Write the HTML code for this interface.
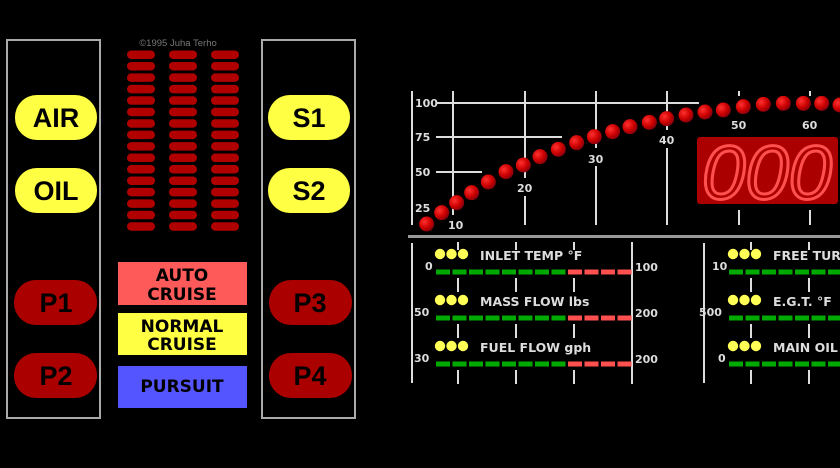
<!DOCTYPE html>
<html><head><meta charset="utf-8"><style>
html,body{margin:0;padding:0;background:#000;width:840px;height:468px;overflow:hidden}
svg{display:block}
.pill{font-family:"Liberation Sans","DejaVu Sans",sans-serif;font-weight:bold;font-size:27px;fill:#000;text-anchor:middle}
.box{font-family:"DejaVu Sans","Liberation Sans",sans-serif;font-weight:bold;font-size:17px;fill:#000;text-anchor:middle}
.ax{font-family:"DejaVu Sans","Liberation Sans",sans-serif;font-size:11px;fill:#ddd;font-weight:bold}
.lb{font-family:"DejaVu Sans","Liberation Sans",sans-serif;font-size:12.5px;fill:#ddd;font-weight:bold}
</style></head><body>
<svg id="s" width="840" height="468" viewBox="0 0 840 468" xmlns="http://www.w3.org/2000/svg">
<defs>
<radialGradient id="ball" cx="0.35" cy="0.35" r="0.7"><stop offset="0" stop-color="#ff3030"/><stop offset="0.6" stop-color="#cc0000"/><stop offset="1" stop-color="#800010"/></radialGradient>
</defs>
<g fill="none" stroke="#aaa" stroke-width="2">
<rect x="7" y="40" width="93" height="378"/>
<rect x="262" y="40" width="93" height="378"/>
</g>
<text x="178" y="46" font-family="Liberation Sans,sans-serif" font-size="9.5" fill="#777" text-anchor="middle">©1995 Juha Terho</text>
<g id="bars" fill="#b00000"></g>
<g>
<rect x="15" y="95" width="82" height="45" rx="22" fill="#ffff44"/><text class="pill" x="56" y="127">AIR</text>
<rect x="15" y="168" width="82" height="45" rx="22" fill="#ffff44"/><text class="pill" x="56" y="200">OIL</text>
<rect x="14" y="280" width="83" height="45" rx="22" fill="#aa0000"/><text class="pill" x="56" y="312">P1</text>
<rect x="14" y="353" width="83" height="45" rx="22" fill="#aa0000"/><text class="pill" x="56" y="385">P2</text>
<rect x="268" y="95" width="82" height="45" rx="22" fill="#ffff44"/><text class="pill" x="309" y="127">S1</text>
<rect x="268" y="168" width="82" height="45" rx="22" fill="#ffff44"/><text class="pill" x="309" y="200">S2</text>
<rect x="269" y="280" width="83" height="45" rx="22" fill="#aa0000"/><text class="pill" x="310" y="312">P3</text>
<rect x="269" y="353" width="83" height="45" rx="22" fill="#aa0000"/><text class="pill" x="310" y="385">P4</text>
</g>
<rect x="118" y="262" width="129" height="43" fill="#ff5a5a"/>
<text class="box" x="182" y="281">AUTO</text><text class="box" x="182" y="300">CRUISE</text>
<rect x="118" y="313" width="129" height="42" fill="#ffff44"/>
<text class="box" x="182" y="332">NORMAL</text><text class="box" x="182" y="350">CRUISE</text>
<rect x="118" y="366" width="129" height="42" fill="#5555ff"/>
<text class="box" x="182" y="392">PURSUIT</text>
<g stroke="#ddd" stroke-width="2">
<line x1="412" y1="91" x2="412" y2="225"/>
<line x1="436" y1="103" x2="699" y2="103"/>
<line x1="436" y1="137" x2="562" y2="137"/>
<line x1="436" y1="172" x2="482" y2="172"/>
<line x1="453" y1="91" x2="453" y2="215"/>
<line x1="525" y1="91" x2="525" y2="178"/><line x1="525" y1="196" x2="525" y2="225"/>
<line x1="596" y1="91" x2="596" y2="148"/><line x1="596" y1="166" x2="596" y2="225"/>
<line x1="667" y1="91" x2="667" y2="130"/><line x1="667" y1="148" x2="667" y2="225"/>
<line x1="739" y1="91" x2="739" y2="96"/><line x1="739" y1="210" x2="739" y2="225"/>
<line x1="810" y1="91" x2="810" y2="96"/><line x1="810" y1="210" x2="810" y2="225"/>
</g>
<text class="ax" x="415" y="107">100</text>
<text class="ax" x="415" y="141">75</text>
<text class="ax" x="415" y="176">50</text>
<text class="ax" x="415" y="212">25</text>
<text class="ax" x="448" y="229">10</text>
<text class="ax" x="517" y="192">20</text>
<text class="ax" x="588" y="163">30</text>
<text class="ax" x="659" y="144">40</text>
<text class="ax" x="731" y="129">50</text>
<text class="ax" x="802" y="129">60</text>
<g id="balls"></g>
<rect x="697" y="137" width="141" height="67" rx="3" fill="#aa0000"/>
<text x="767" y="199" font-family="Liberation Sans,sans-serif" font-style="italic" font-size="76" fill="none" stroke="#ff5050" stroke-width="3" text-anchor="middle" textLength="130" lengthAdjust="spacingAndGlyphs">000</text>
<rect x="408" y="235" width="432" height="3" fill="#999"/>
<g id="gauges"></g>
<text class="lb" x="480" y="260">INLET TEMP °F</text>
<text class="lb" x="480" y="306">MASS FLOW lbs</text>
<text class="lb" x="480" y="352">FUEL FLOW gph</text>
<text class="ax" x="425" y="270">0</text>
<text class="ax" x="414" y="316">50</text>
<text class="ax" x="414" y="362">30</text>
<text class="ax" x="635" y="271">100</text>
<text class="ax" x="635" y="317">200</text>
<text class="ax" x="635" y="363">200</text>
<text class="lb" x="773" y="260">FREE TURBINE</text>
<text class="lb" x="773" y="306">E.G.T. °F</text>
<text class="lb" x="773" y="352">MAIN OIL</text>
<text class="ax" x="712" y="270">10</text>
<text class="ax" x="699" y="316">500</text>
<text class="ax" x="718" y="362">0</text>
</svg>
<script>
var NS="http://www.w3.org/2000/svg";
function el(p,t,a){var e=document.createElementNS(NS,t);for(var k in a)e.setAttribute(k,a[k]);p.appendChild(e);return e;}
var b=document.getElementById('bars');
[127,169,211].forEach(function(x){for(var i=0;i<16;i++){el(b,'rect',{x:x,y:50.5+i*11.45,width:28,height:8.5,rx:4.2});}});
var pts=[[80,432],[125,398],[170,368],[215,338],[265,306],[318,275],[370,255],[420,230],[475,208],[530,188],[583,170],[638,155],[690,140],[748,127],[800,116],[858,105],[915,96],[970,90],[1030,80],[1090,73],[1150,70],[1210,70],[1265,70],[1320,75]];
var bl=document.getElementById('balls');
pts.forEach(function(p){el(bl,'circle',{cx:400+p[0]/3,cy:80+p[1]/3,r:7.5,fill:'url(#ball)'});});
var g=document.getElementById('gauges');
function group(lx,dx,bx,ticks,red,vline){
 el(g,'line',{x1:lx,y1:243,x2:lx,y2:383,stroke:'#ddd','stroke-width':2});
 ticks.forEach(function(t){[[242,250],[278,292],[324,338],[370,384]].forEach(function(r){el(g,'line',{x1:t,y1:r[0],x2:t,y2:r[1],stroke:'#ddd','stroke-width':2});});});
 if(vline)el(g,'line',{x1:vline,y1:242,x2:vline,y2:384,stroke:'#ddd','stroke-width':2});
 [0,46,92].forEach(function(o){
  for(var i=0;i<3;i++)el(g,'circle',{cx:dx+i*11.5,cy:254+o,r:5.2,fill:'#ffff55'});
  for(var j=0;j<12;j++){var x=bx+j*16.5;if(x>845)break;el(g,'rect',{x:x,y:269.5+o,width:14,height:5,fill:(red&&j>=8)?'#ff5050':'#00aa00'});}
 });
}
group(412,440,436,[458,516,574],true,632);
group(704,733,729,[751,809],false,null);
</script>
</body></html>
